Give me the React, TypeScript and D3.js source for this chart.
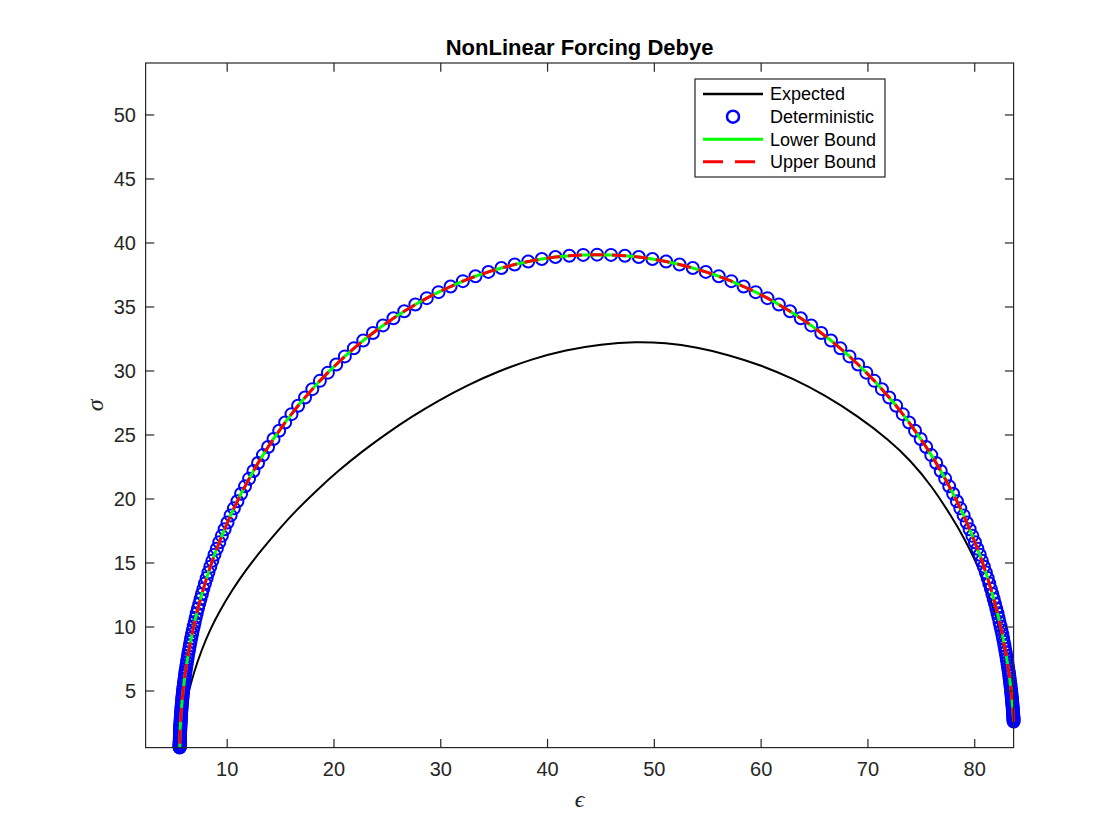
import React, { useRef, useEffect } from "react";
import * as d3 from "d3";

type Pt = [number, number];

// Deterministic Debye arc: [eps', sigma], from low to high frequency
const deterministic: Pt[] = [
  [83.64, 2.61], [83.64, 2.69], [83.63, 2.79], [83.62, 2.88], [83.62, 2.98], [83.61, 3.08],
  [83.6, 3.18], [83.59, 3.29], [83.58, 3.4], [83.57, 3.52], [83.56, 3.63], [83.55, 3.76],
  [83.54, 3.88], [83.52, 4.01], [83.51, 4.15], [83.49, 4.29], [83.48, 4.43], [83.46, 4.58],
  [83.44, 4.74], [83.42, 4.9], [83.4, 5.06], [83.38, 5.23], [83.35, 5.41], [83.33, 5.59],
  [83.3, 5.78], [83.27, 5.97], [83.24, 6.17], [83.21, 6.37], [83.17, 6.59], [83.13, 6.81],
  [83.09, 7.04], [83.05, 7.27], [83.0, 7.51], [82.95, 7.76], [82.9, 8.02], [82.84, 8.28],
  [82.78, 8.56], [82.72, 8.84], [82.65, 9.13], [82.58, 9.43], [82.5, 9.74], [82.41, 10.06],
  [82.32, 10.39], [82.23, 10.73], [82.13, 11.08], [82.02, 11.44], [81.9, 11.81], [81.78, 12.19],
  [81.65, 12.58], [81.51, 12.98], [81.36, 13.4], [81.21, 13.82], [81.04, 14.26], [80.86, 14.71],
  [80.67, 15.17], [80.47, 15.64], [80.25, 16.12], [80.02, 16.62], [79.78, 17.12], [79.52, 17.64],
  [79.25, 18.17], [78.96, 18.72], [78.65, 19.27], [78.33, 19.83], [77.98, 20.41], [77.61, 20.99],
  [77.23, 21.59], [76.82, 22.19], [76.39, 22.81], [75.93, 23.43], [75.45, 24.06], [74.94, 24.69],
  [74.41, 25.33], [73.85, 25.98], [73.26, 26.63], [72.64, 27.28], [71.99, 27.93], [71.31, 28.58],
  [70.6, 29.23], [69.85, 29.87], [69.08, 30.51], [68.27, 31.14], [67.42, 31.77], [66.54, 32.38],
  [65.63, 32.97], [64.69, 33.56], [63.71, 34.12], [62.7, 34.67], [61.66, 35.19], [60.59, 35.69],
  [59.49, 36.16], [58.36, 36.6], [57.21, 37.02], [56.03, 37.4], [54.82, 37.74], [53.6, 38.05],
  [52.36, 38.32], [51.1, 38.55], [49.82, 38.75], [48.54, 38.9], [47.24, 39.0], [45.94, 39.07],
  [44.64, 39.09], [43.34, 39.07], [42.04, 39.0], [40.74, 38.9], [39.46, 38.75], [38.19, 38.55],
  [36.92, 38.32], [35.68, 38.05], [34.46, 37.74], [33.25, 37.4], [32.07, 37.02], [30.92, 36.6],
  [29.79, 36.16], [28.69, 35.69], [27.62, 35.19], [26.58, 34.67], [25.57, 34.12], [24.59, 33.56],
  [23.65, 32.97], [22.74, 32.38], [21.86, 31.77], [21.02, 31.14], [20.21, 30.51], [19.43, 29.87],
  [18.68, 29.23], [17.97, 28.58], [17.29, 27.93], [16.64, 27.28], [16.02, 26.63], [15.43, 25.98],
  [14.87, 25.33], [14.34, 24.69], [13.83, 24.06], [13.35, 23.43], [12.89, 22.81], [12.46, 22.19],
  [12.05, 21.59], [11.67, 20.99], [11.3, 20.41], [10.96, 19.83], [10.63, 19.27], [10.32, 18.72],
  [10.03, 18.17], [9.76, 17.64], [9.5, 17.12], [9.26, 16.62], [9.03, 16.12], [8.81, 15.64],
  [8.61, 15.17], [8.42, 14.71], [8.24, 14.26], [8.08, 13.82], [7.92, 13.4], [7.77, 12.98],
  [7.63, 12.58], [7.5, 12.19], [7.38, 11.81], [7.26, 11.44], [7.15, 11.08], [7.05, 10.73],
  [6.96, 10.39], [6.87, 10.06], [6.78, 9.74], [6.71, 9.43], [6.63, 9.13], [6.56, 8.84],
  [6.5, 8.56], [6.44, 8.28], [6.38, 8.02], [6.33, 7.76], [6.28, 7.51], [6.23, 7.27],
  [6.19, 7.04], [6.15, 6.81], [6.11, 6.59], [6.07, 6.37], [6.04, 6.17], [6.01, 5.97],
  [5.98, 5.78], [5.95, 5.59], [5.93, 5.41], [5.9, 5.23], [5.88, 5.06], [5.86, 4.9],
  [5.84, 4.74], [5.82, 4.58], [5.8, 4.43], [5.79, 4.29], [5.77, 4.15], [5.76, 4.01],
  [5.74, 3.88], [5.73, 3.76], [5.72, 3.63], [5.71, 3.52], [5.7, 3.4], [5.69, 3.29],
  [5.68, 3.18], [5.67, 3.08], [5.66, 2.98], [5.66, 2.88], [5.65, 2.79], [5.64, 2.69],
  [5.64, 2.61], [5.63, 2.52], [5.63, 2.44], [5.62, 2.36], [5.62, 2.28], [5.61, 2.21],
  [5.61, 2.13], [5.6, 2.07], [5.6, 2.0], [5.6, 1.93], [5.59, 1.87], [5.59, 1.81],
  [5.59, 1.75], [5.59, 1.69], [5.58, 1.64], [5.58, 1.58], [5.58, 1.53], [5.58, 1.48],
  [5.58, 1.43], [5.57, 1.39], [5.57, 1.34], [5.57, 1.3], [5.57, 1.25], [5.57, 1.21],
  [5.57, 1.17], [5.57, 1.13], [5.57, 1.1], [5.56, 1.06], [5.56, 1.03], [5.56, 0.99],
  [5.56, 0.96], [5.56, 0.93], [5.56, 0.9], [5.56, 0.87], [5.56, 0.84], [5.56, 0.81],
  [5.56, 0.79], [5.56, 0.76], [5.56, 0.74], [5.56, 0.71], [5.55, 0.69], [5.55, 0.67],
  [5.55, 0.64], [5.55, 0.62], [5.55, 0.6], [5.55, 0.58],
];

// lower and upper bounds coincide with the deterministic curve in the figure
const lowerBound: Pt[] = deterministic;
const upperBound: Pt[] = deterministic;

// Expected curve (mean over random relaxation time)
const expected: Pt[] = [
  [5.6, 1.0], [5.7, 2.0], [5.86, 3.0], [6.1, 4.0], [6.44, 5.08], [6.9, 6.5], [7.6, 8.2],
  [8.4, 9.8], [9.3, 11.25], [10.4, 12.8], [11.7, 14.4], [13.2, 16.0], [14.8, 17.6],
  [16.5, 19.15], [18.4, 20.7], [20.4, 22.2], [22.6, 23.7], [24.9, 25.1], [27.3, 26.45],
  [29.8, 27.7], [32.5, 28.9], [35.4, 29.98], [38.5, 30.93], [41.7, 31.65], [45.0, 32.1],
  [48.3, 32.3], [51.0, 32.2], [54.0, 31.85], [57.0, 31.25], [60.0, 30.45], [63.0, 29.4],
  [66.0, 28.1], [69.0, 26.5], [72.0, 24.6], [74.0, 23.0], [76.0, 21.0], [78.0, 18.4],
  [79.0, 16.95], [80.0, 15.3], [81.0, 13.3], [82.0, 10.85], [82.7, 8.6], [83.2, 6.4],
  [83.5, 4.5], [83.64, 2.6],
];

const xTicks = [10, 20, 30, 40, 50, 60, 70, 80];
const yTicks = [5, 10, 15, 20, 25, 30, 35, 40, 45, 50];
const legendLabels = ["Expected", "Deterministic", "Lower Bound", "Upper Bound"];

export default function App() {
  const ref = useRef<SVGSVGElement>(null);
  const width = 1120;
  const height = 840;

  useEffect(() => {
    const svg = d3.select(ref.current);
    svg.selectAll("*").remove();

    const left = 145.6, right = 1013.6, top = 63, bottom = 747.6;
    const axisColor = "#262626";
    const font = "'Liberation Sans', Arial, Helvetica, sans-serif";

    const x = d3.scaleLinear().domain([2.36, 83.64]).range([left, right]);
    const y = d3.scaleLinear().domain([0.58, 54.06]).range([bottom, top]);

    svg.append("rect").attr("width", width).attr("height", height).attr("fill", "#fff");

    const smooth = d3
      .line<Pt>()
      .x((d) => x(d[0]))
      .y((d) => y(d[1]))
      .curve(d3.curveBasis);
    const plain = d3
      .line<Pt>()
      .x((d) => x(d[0]))
      .y((d) => y(d[1]));

    // Expected
    svg
      .append("path")
      .datum(expected)
      .attr("fill", "none")
      .attr("stroke", "#000")
      .attr("stroke-width", 2)
      .attr("d", smooth);

    // Deterministic markers
    svg
      .append("g")
      .selectAll("circle")
      .data(deterministic)
      .join("circle")
      .attr("cx", (d) => x(d[0]))
      .attr("cy", (d) => y(d[1]))
      .attr("r", 6)
      .attr("fill", "none")
      .attr("stroke", "#0000ff")
      .attr("stroke-width", 2);

    svg
      .append("path")
      .datum(lowerBound)
      .attr("fill", "none")
      .attr("stroke", "#00ff00")
      .attr("stroke-width", 3)
      .attr("d", plain);

    svg
      .append("path")
      .datum(upperBound)
      .attr("fill", "none")
      .attr("stroke", "#ff0000")
      .attr("stroke-width", 3)
      .attr("stroke-dasharray", "14,8")
      .attr("d", plain);

    // axes box
    svg
      .append("rect")
      .attr("x", left)
      .attr("y", top)
      .attr("width", right - left)
      .attr("height", bottom - top)
      .attr("fill", "none")
      .attr("stroke", axisColor)
      .attr("stroke-width", 1.2);

    const tl = 8.7;
    const g = svg.append("g").attr("stroke", axisColor).attr("stroke-width", 1.2);
    xTicks.forEach((t) => {
      g.append("line").attr("x1", x(t)).attr("x2", x(t)).attr("y1", bottom).attr("y2", bottom - tl);
      g.append("line").attr("x1", x(t)).attr("x2", x(t)).attr("y1", top).attr("y2", top + tl);
    });
    yTicks.forEach((t) => {
      g.append("line").attr("x1", left).attr("x2", left + tl).attr("y1", y(t)).attr("y2", y(t));
      g.append("line").attr("x1", right).attr("x2", right - tl).attr("y1", y(t)).attr("y2", y(t));
    });

    svg
      .append("g")
      .selectAll("text")
      .data(xTicks)
      .join("text")
      .attr("x", (d) => x(d))
      .attr("y", 776)
      .attr("text-anchor", "middle")
      .attr("font-family", font)
      .attr("font-size", 20)
      .attr("fill", axisColor)
      .text((d) => d);

    svg
      .append("g")
      .selectAll("text")
      .data(yTicks)
      .join("text")
      .attr("x", 136)
      .attr("y", (d) => y(d))
      .attr("dy", "0.36em")
      .attr("text-anchor", "end")
      .attr("font-family", font)
      .attr("font-size", 20)
      .attr("fill", axisColor)
      .text((d) => d);

    svg
      .append("text")
      .attr("x", (left + right) / 2)
      .attr("y", 55)
      .attr("text-anchor", "middle")
      .attr("font-family", font)
      .attr("font-size", 22)
      .attr("font-weight", "bold")
      .attr("fill", "#000")
      .text("NonLinear Forcing Debye");

    svg
      .append("text")
      .attr("x", (left + right) / 2)
      .attr("y", 807)
      .attr("text-anchor", "middle")
      .attr("font-family", "'Liberation Serif', 'DejaVu Serif', serif")
      .attr("font-style", "italic")
      .attr("font-size", 24)
      .attr("fill", axisColor)
      .text("\u03F5");

    svg
      .append("text")
      .attr("transform", `translate(103,${(top + bottom) / 2}) rotate(-90)`)
      .attr("text-anchor", "middle")
      .attr("font-family", "'Liberation Serif', 'DejaVu Serif', serif")
      .attr("font-style", "italic")
      .attr("font-size", 24)
      .attr("fill", axisColor)
      .text("\u03C3");

    // legend
    const lg = svg.append("g");
    lg.append("rect")
      .attr("x", 695)
      .attr("y", 79)
      .attr("width", 190)
      .attr("height", 98)
      .attr("fill", "#fff")
      .attr("stroke", axisColor)
      .attr("stroke-width", 1.2);
    const rowY = [94, 116.7, 139.3, 161.7];
    lg.append("line").attr("x1", 703).attr("x2", 763).attr("y1", rowY[0]).attr("y2", rowY[0])
      .attr("stroke", "#000").attr("stroke-width", 2.5);
    lg.append("circle").attr("cx", 733).attr("cy", rowY[1]).attr("r", 6)
      .attr("fill", "none").attr("stroke", "#0000ff").attr("stroke-width", 2.5);
    lg.append("line").attr("x1", 703).attr("x2", 763).attr("y1", rowY[2]).attr("y2", rowY[2])
      .attr("stroke", "#00ff00").attr("stroke-width", 3);
    lg.append("line").attr("x1", 703).attr("x2", 763).attr("y1", rowY[3]).attr("y2", rowY[3])
      .attr("stroke", "#ff0000").attr("stroke-width", 3).attr("stroke-dasharray", "20,12");
    legendLabels.forEach((l, i) => {
      lg.append("text")
        .attr("x", 770)
        .attr("y", rowY[i])
        .attr("dy", "0.36em")
        .attr("font-family", font)
        .attr("font-size", 18)
        .attr("fill", "#000")
        .text(l);
    });
  }, []);

  return (
    <svg
      ref={ref}
      width={width}
      height={height}
      style={{ position: "absolute", left: 0, top: 0 }}
    ></svg>
  );
}
